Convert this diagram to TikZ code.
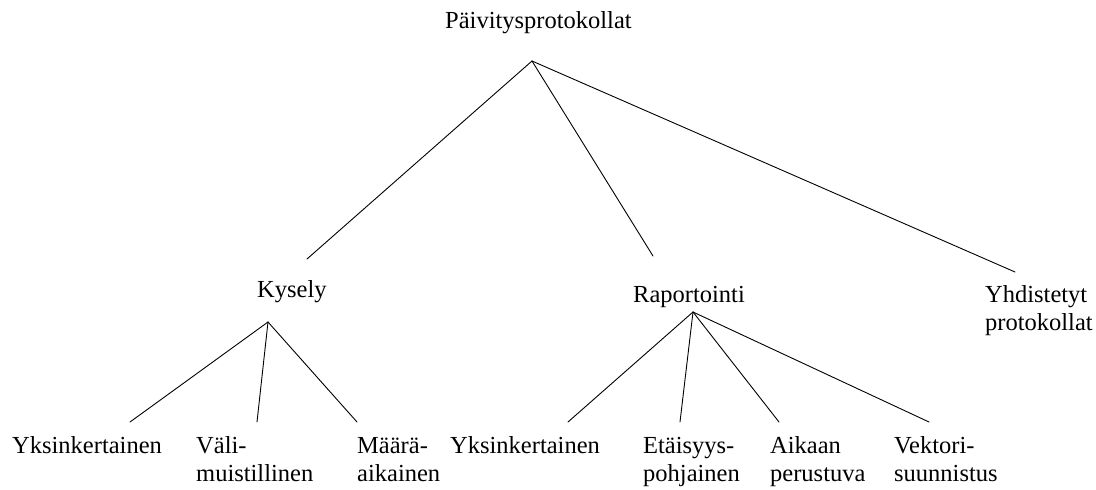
\documentclass[tikz,border=0pt]{standalone}
\usepackage{fontspec}
\setmainfont{Liberation Serif}
\begin{document}
\begin{tikzpicture}[x=1pt,y=-1pt,
  lbl/.style={anchor=base west,inner sep=0pt,align=left,
    font=\fontsize{24.5}{28}\selectfont},
  edge/.style={line width=0.9pt,line cap=round}]
\useasboundingbox (0,0) rectangle (1096,490);

% labels (two-line labels are placed by the baseline of their last line)
\node[lbl] (root) at (445,28) {Päivitysprotokollat};
\node[lbl] (kys)  at (257,297) {Kysely};
\node[lbl] (rap)  at (633,302) {Raportointi};
\node[lbl] (yhd)  at (985,330) {Yhdistetyt\\protokollat};
\node[lbl] (k1) at (12,453)  {Yksinkertainen};
\node[lbl] (k2) at (196,481) {Väli-\\muistillinen};
\node[lbl] (k3) at (357,481) {Määrä-\\aikainen};
\node[lbl] (r1) at (450,453) {Yksinkertainen};
\node[lbl] (r2) at (643,481) {Etäisyys-\\pohjainen};
\node[lbl] (r3) at (770,481) {Aikaan\\perustuva};
\node[lbl] (r4) at (894,481) {Vektori-\\suunnistus};

% branching points and line ends
\coordinate (rootJ) at (532,61);
\coordinate (kysJ)  at (268,322);
\coordinate (rapJ)  at (693,312);
\coordinate (kysT)  at (307,259);
\coordinate (rapT)  at (653,256);
\coordinate (yhdT)  at (1015,272);
\coordinate (k1T) at (130,422);
\coordinate (k2T) at (257,422);
\coordinate (k3T) at (357,422);
\coordinate (r1T) at (568,422);
\coordinate (r2T) at (680,422);
\coordinate (r3T) at (779,422);
\coordinate (r4T) at (929,422);

% connectors
\draw[edge] (rootJ) -- (kysT);
\draw[edge] (rootJ) -- (rapT);
\draw[edge] (rootJ) -- (yhdT);
\draw[edge] (kysJ) -- (k1T);
\draw[edge] (kysJ) -- (k2T);
\draw[edge] (kysJ) -- (k3T);
\draw[edge] (rapJ) -- (r1T);
\draw[edge] (rapJ) -- (r2T);
\draw[edge] (rapJ) -- (r3T);
\draw[edge] (rapJ) -- (r4T);
\end{tikzpicture}
\end{document}
